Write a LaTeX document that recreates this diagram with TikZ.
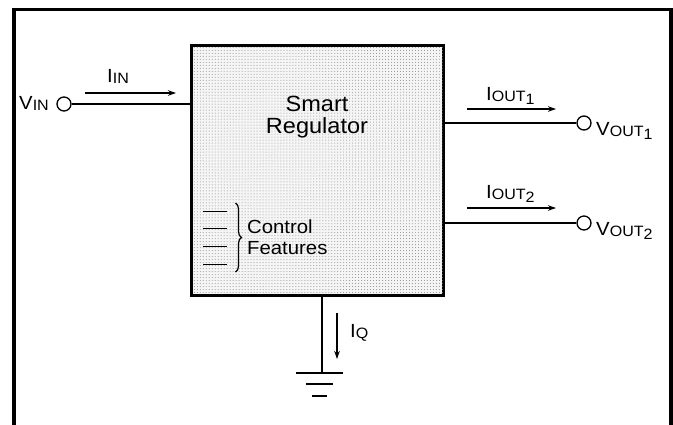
\documentclass[tikz,border=0pt]{standalone}
\usepackage{fontspec}
\setmainfont{Liberation Sans}[FakeStretch=1.07]
\usetikzlibrary{patterns,arrows.meta,decorations.pathreplacing}
\newcommand\bigf{\fontsize{19bp}{20bp}\selectfont}
\newcommand\smf{\fontsize{15bp}{16bp}\selectfont}
\newcommand\lbl[2]{{\bigf #1}{\smf\raisebox{-1bp}{#2}}}
\newcommand\lbln[3]{{\bigf #1}{\smf\raisebox{-1bp}{#2}\raisebox{-4bp}{#3}}}
\begin{document}
\begin{tikzpicture}[x=1bp,y=-1bp,
  wire/.style={line width=1.4bp},
  cur/.style={line width=1.2bp,-{Stealth[length=8bp,width=5.5bp]}},
  term/.style={circle,draw,line width=1.3bp,minimum size=14bp,inner sep=0pt},
  txt/.style={inner sep=0pt,font=\fontsize{22bp}{25bp}\selectfont},
  lab/.style={inner sep=0pt,anchor=base west}]
\useasboundingbox (0,0) rectangle (673,424);
% outer frame (open at the bottom)
\draw[line width=3.5bp] (14,430) -- (14,9.5) -- (671,9.5) -- (671,430);
% regulator box
\node[draw,line width=1.6bp,fill=gray!8,minimum width=251bp,minimum height=249bp,inner sep=0pt] (reg) at (317.5,170.5) {};
\fill[pattern=dots,pattern color=gray!90] (192.5,46.5) rectangle (442.5,294.5);
\draw[line width=1.8bp] (reg.north west) rectangle (reg.south east);
\node[txt,anchor=base] (t1) at (317,111) {Smart};
\node[txt,anchor=base] (t2) at (317,133) {Regulator};
% control features
\foreach \y/\n in {211/a,228/b,246/c,264/d}{
  \coordinate (cl\n) at (203,\y);
  \coordinate (cr\n) at (227,\y);
  \draw[line width=1bp] (cl\n) -- (cr\n);
}
\coordinate (bt) at (235.5,203);
\coordinate (bb) at (235.5,272);
\draw[line width=1.2bp,decorate,decoration={brace,amplitude=6bp}] (bt) -- (bb);
\node[lab,font=\fontsize{19bp}{21bp}\selectfont] (c1) at (247,233) {Control};
\node[lab,font=\fontsize{19bp}{21bp}\selectfont] (c2) at (247,254) {Features};
% input
\node[term] (vin) at (64,104) {};
\draw[wire] (vin.east) -- (reg.west |- vin.east);
\node[lab] (vinl) at (19,109) {\lbl{V}{IN}};
\coordinate (ia) at (85,93);
\coordinate (ib) at (176,93);
\draw[cur] (ia) -- (ib);
\node[lab] (iinl) at (107,82) {\lbl{I}{IN}};
% outputs
\node[term] (vo1) at (584,123) {};
\node[term] (vo2) at (584,223) {};
\draw[wire] (reg.east |- vo1.west) -- (vo1.west);
\draw[wire] (reg.east |- vo2.west) -- (vo2.west);
\node[lab] (vo1l) at (596,135) {\lbln{V}{OUT}{1}};
\node[lab] (vo2l) at (596,235) {\lbln{V}{OUT}{2}};
\coordinate (o1a) at (467,109);
\coordinate (o1b) at (556,109);
\coordinate (o2a) at (467,208);
\coordinate (o2b) at (556,208);
\draw[cur] (o1a) -- (o1b);
\draw[cur] (o2a) -- (o2b);
\node[lab] (io1l) at (486,100) {\lbln{I}{OUT}{1}};
\node[lab] (io2l) at (486,198) {\lbln{I}{OUT}{2}};
% ground
\coordinate (g) at (322,373);
\draw[wire] (reg.south -| g) -- (g);
\coordinate (g1a) at (296,373); \coordinate (g1b) at (343,373);
\coordinate (g2a) at (306,384); \coordinate (g2b) at (333,384);
\coordinate (g3a) at (312,396); \coordinate (g3b) at (327,396);
\draw[line width=1.6bp] (g1a) -- (g1b);
\draw[line width=1.6bp] (g2a) -- (g2b);
\draw[line width=1.6bp] (g3a) -- (g3b);
\coordinate (qa) at (337,313);
\coordinate (qb) at (337,359);
\draw[cur] (qa) -- (qb);
\node[lab] (iql) at (350,337) {\lbl{I}{Q}};
\end{tikzpicture}
\end{document}
